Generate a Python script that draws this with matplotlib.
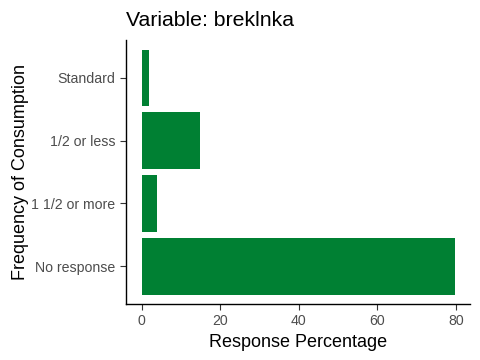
import matplotlib
matplotlib.use("Agg")
import matplotlib.pyplot as plt

plt.rcParams["font.family"] = ["Liberation Sans", "DejaVu Sans"]

categories = ["No response", "1 1/2 or more", "1/2 or less", "Standard"]
percentages = [79.7, 3.8, 14.8, 1.8]
x_ticks = [0, 20, 40, 60, 80]

bar_color = "#008033"
tick_color = "#4D4D4D"

fig = plt.figure(figsize=(4.8, 3.6), dpi=100)
ax = fig.add_axes([0.2625, 0.1556, 0.717, 0.733])

positions = range(len(categories))
ax.barh(positions, percentages, height=0.9, color=bar_color)

xmax = max(percentages)
ax.set_xlim(-0.05 * xmax, xmax * 1.05)
ax.set_ylim(-0.6, len(categories) - 0.4)
ax.set_yticks(list(positions))
ax.set_yticklabels(categories)
ax.set_xticks(x_ticks)

for side in ["top", "right"]:
    ax.spines[side].set_visible(False)
for side in ["left", "bottom"]:
    ax.spines[side].set_linewidth(1.0)
    ax.spines[side].set_color("black")

ax.tick_params(axis="both", colors=tick_color, labelsize=10.2, length=4, width=0.8, pad=3.5)
ax.tick_params(axis="both", color="#333333")

ax.set_xlabel("Response Percentage", fontsize=13, color="black", labelpad=4)
ax.set_ylabel("Frequency of Consumption", fontsize=13, color="black", labelpad=2)
ax.set_title("Variable: breklnka", fontsize=15.3, loc="left", pad=10)

fig.savefig("out.png", dpi=100)
